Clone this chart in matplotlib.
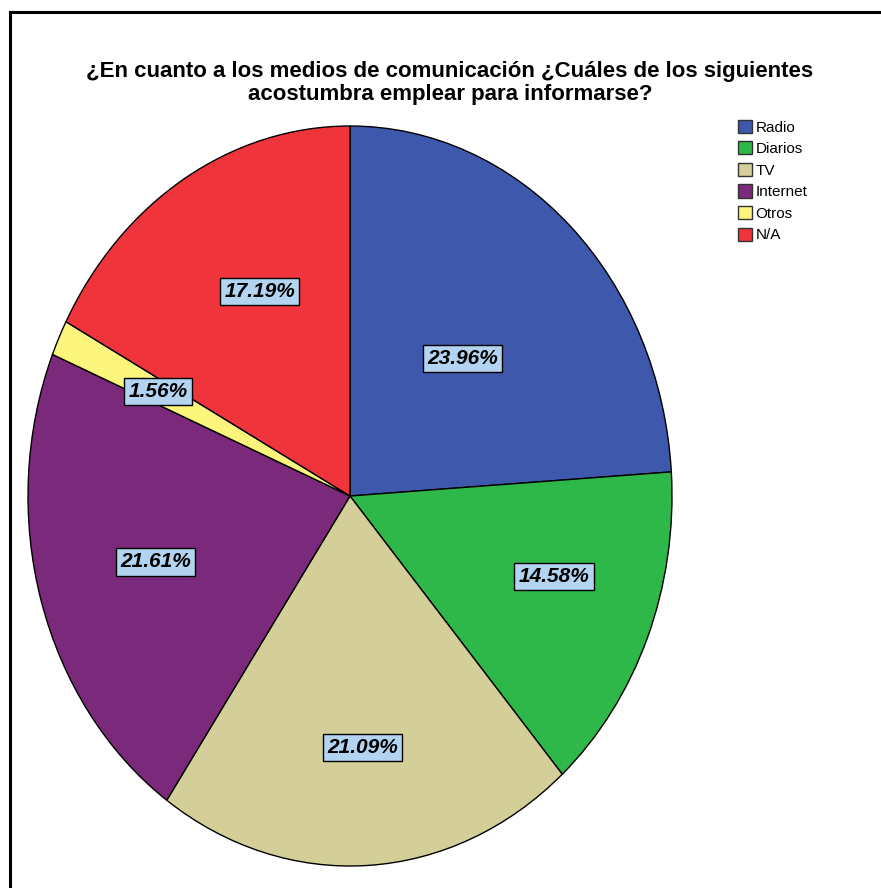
import numpy as np
import matplotlib.pyplot as plt
from matplotlib.lines import Line2D
from matplotlib.patches import Patch

# survey shares (%) for each medium, clockwise from 12 o'clock
categories = ["Radio", "Diarios", "TV", "Internet", "Otros", "N/A"]
shares = [23.96, 14.58, 21.09, 21.61, 1.56, 17.19]
colors = ["#3E58AC", "#2EB84A", "#D4CF99", "#7B2A7B", "#FBF57C", "#EF353B"]
# where each percent box sits: fraction of radius and angle nudge (deg)
label_radius = [0.51, 0.67, 0.68, 0.63, 0.66, 0.62]
label_nudge = [0.0, 3.5, 0.0, 0.0, 0.0, -4.0]

title = ("¿En cuanto a los medios de comunicación ¿Cuáles de los siguientes\n"
         "acostumbra emplear para informarse?")

narrow = ["Liberation Sans Narrow", "Liberation Sans", "DejaVu Sans"]


def main():
    fig = plt.figure(figsize=(8.81, 8.88), dpi=100)

    # outer frame: only left and top edges are visible
    fig.add_artist(Line2D([10 / 881, 10 / 881], [0, 1 - 12 / 888],
                          color="black", lw=2.2, transform=fig.transFigure))
    fig.add_artist(Line2D([10 / 881, 1], [1 - 12 / 888, 1 - 12 / 888],
                          color="black", lw=2.2, transform=fig.transFigure))

    ax = fig.add_axes([28 / 881, 22 / 888, 644 / 881, 740 / 888])
    ax.pie(shares, colors=colors, startangle=90, counterclock=False,
           radius=1.0, wedgeprops=dict(edgecolor="black", linewidth=1.0))
    # stretched pie: the axes box is taller than it is wide
    ax.set_aspect("auto")
    ax.set_xlim(-1, 1)
    ax.set_ylim(-1, 1)
    ax.axis("off")

    total = sum(shares)
    start = 90.0
    for val, r, nudge in zip(shares, label_radius, label_nudge):
        sweep = val / total * 360.0
        mid = np.deg2rad(start - sweep / 2 + nudge)
        start -= sweep
        ax.text(r * np.cos(mid), r * np.sin(mid), f"{val:.2f}%",
                ha="center", va="center", fontsize=15, fontweight="bold",
                fontstyle="italic", family=narrow,
                bbox=dict(boxstyle="square,pad=0.2", fc="#B3D4F0",
                          ec="black", lw=1.0))

    fig.text(450 / 881, 1 - 83 / 888, title, ha="center", va="center",
             fontsize=16, fontweight="bold", family=["Liberation Sans"],
             linespacing=1.15)

    handles = [Patch(facecolor=c, edgecolor="#333333", lw=1.0) for c in colors]
    fig.legend(handles, categories, loc="upper left",
               bbox_to_anchor=(727 / 881, 1 - 109 / 888),
               frameon=False, prop={"family": narrow, "size": 11},
               handlelength=0.95, handleheight=0.95, handletextpad=0.2,
               labelspacing=0.44, borderpad=0.2)

    fig.savefig("out.png", dpi=100)


if __name__ == "__main__":
    main()
